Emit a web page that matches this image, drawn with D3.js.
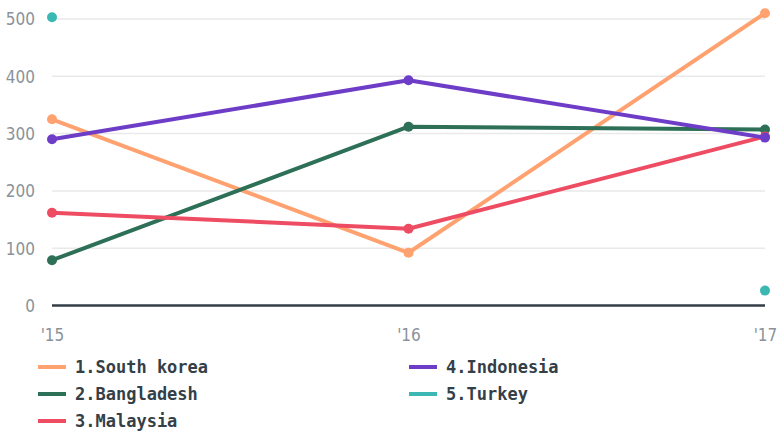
<!DOCTYPE html>
<html>
<head>
<meta charset="utf-8">
<script src="https://cdn.jsdelivr.net/npm/d3@7"></script>
<style>
  body { margin: 0; background: #fff; }
  .tick text { font-family: "DejaVu Sans Condensed", "DejaVu Sans", sans-serif; font-size: 17px; fill: #8a9299; }
  .legend text { font-family: "DejaVu Sans Mono", monospace; font-weight: bold; font-size: 17px; fill: #343f48; }
</style>
</head>
<body>
<script>
// data
var years = ["'15", "'16", "'17"];
var yTicks = [0, 100, 200, 300, 400, 500];
var seriesNames = ["1.South korea", "2.Bangladesh", "3.Malaysia", "4.Indonesia", "5.Turkey"];
var colors = ["#ffa270", "#2d7057", "#ee4c63", "#6e3dc8", "#3bb8b4"];
var southKorea = [325, 92, 510];
var bangladesh = [79, 312, 307];
var malaysia = [162, 134, 295];
var indonesia = [290, 393, 293];
var turkey = [503, null, 26];
var allSeries = [southKorea, bangladesh, malaysia, indonesia, turkey];

var width = 778, height = 432;
var margin = {top: 19, right: 13, bottom: 127, left: 52};
var w = width - margin.left - margin.right,
    h = height - margin.top - margin.bottom;

var svg = d3.select("body").append("svg")
    .attr("width", width)
    .attr("height", height);

var g = svg.append("g")
    .attr("transform", "translate(" + margin.left + "," + margin.top + ")");

var x = d3.scalePoint().domain(years).range([0, w]);
var y = d3.scaleLinear().domain([0, 500]).range([h + 0.5, 0]);

// gridlines
g.selectAll(".grid")
  .data(yTicks.filter(d => d > 0))
  .enter().append("line")
  .attr("x1", 0).attr("x2", w)
  .attr("y1", d => y(d)).attr("y2", d => y(d))
  .attr("stroke", "#e9e9e9").attr("stroke-width", 1.5);

// y axis
var yAxis = g.append("g")
  .call(d3.axisLeft(y).tickValues(yTicks).tickSize(0).tickPadding(17));
yAxis.select(".domain").remove();
yAxis.selectAll("text").attr("dy", "0.35em");

// baseline
g.append("line")
  .attr("x1", 0).attr("x2", w)
  .attr("y1", y(0)).attr("y2", y(0))
  .attr("stroke", "#333d47").attr("stroke-width", 2.5);

// x axis
var xAxis = g.append("g")
  .attr("transform", "translate(0," + (h + 22) + ")")
  .call(d3.axisBottom(x).tickSize(0).tickPadding(0));
xAxis.select(".domain").remove();
xAxis.selectAll("text").attr("dy", "0.85em");

var line = d3.line()
  .defined(d => d != null)
  .x((d, i) => x(years[i]))
  .y(d => y(d));

allSeries.forEach(function(s, k) {
  g.append("path")
    .datum(s)
    .attr("fill", "none")
    .attr("stroke", colors[k])
    .attr("stroke-width", 4)
    .attr("stroke-linejoin", "round")
    .attr("d", line);
  g.selectAll(".pt" + k)
    .data(s.map((v, i) => ({v: v, i: i})).filter(d => d.v != null))
    .enter().append("circle")
    .attr("cx", d => x(years[d.i]))
    .attr("cy", d => y(d.v))
    .attr("r", 5)
    .attr("fill", colors[k]);
});

// legend
var legend = svg.append("g").attr("class", "legend");
seriesNames.forEach(function(name, k) {
  var col = k < 3 ? 0 : 1;
  var row = k < 3 ? k : k - 3;
  var lx = col === 0 ? 38 : 409;
  var ly = 367 + row * 27;
  legend.append("line")
    .attr("x1", lx).attr("x2", lx + 28)
    .attr("y1", ly).attr("y2", ly)
    .attr("stroke", colors[k]).attr("stroke-width", 4);
  legend.append("text")
    .attr("x", lx + 37).attr("y", ly)
    .attr("dy", "0.35em")
    .text(name);
});
</script>
</body>
</html>
